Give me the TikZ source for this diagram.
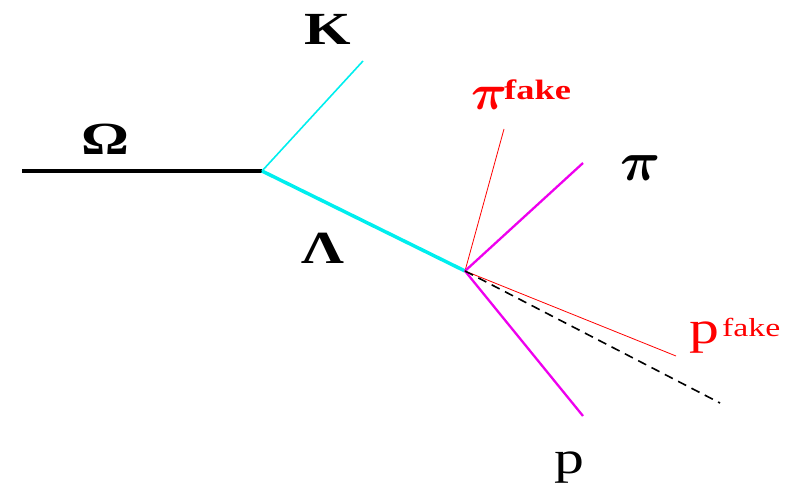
\documentclass[tikz,border=0pt]{standalone}
\usepackage{fix-cm}
\usepackage{bm}
\usepackage{fontspec}
\setmainfont{Liberation Serif}
\newcommand{\wide}[1]{\scalebox{1.3}[1]{#1}}
\begin{document}
\begin{tikzpicture}[x=1pt,y=-1pt,
  lbl/.style={font=\fontsize{46}{46}\selectfont\bfseries, inner sep=0pt, anchor=base},
  red lbl/.style={lbl, text=red, anchor=base west},
  trk/.style={line cap=butt}]
\useasboundingbox (0,0) rectangle (802,489);
\definecolor{mycyan}{RGB}{0,238,238}
\definecolor{mymag}{RGB}{238,0,238}
\coordinate (o) at (22,171);
\coordinate (v1) at (262,171);
\coordinate (k) at (363,61);
\coordinate (v2) at (465,271);
\coordinate (pif) at (504,129);
\coordinate (pi) at (583,163);
\coordinate (p) at (583,416);
\coordinate (pf) at (676,356);
\coordinate (d) at (720,403);
\draw[trk, line width=3.5pt] (o) -- (v1);
\draw[trk, mycyan, line width=1.6pt] (v1) -- (k);
\draw[trk, mycyan, line width=3.5pt] (v1) -- (v2);
\draw[trk, red, line width=0.8pt] (v2) -- (pif);
\draw[trk, mymag, line width=2.3pt] (v2) -- (pi);
\draw[trk, mymag, line width=2.3pt] (v2) -- (p);
\draw[trk, red, line width=0.8pt] (v2) -- (pf);
\draw[trk, dashed, dash pattern=on 9pt off 6pt, line width=1.6pt] (v2) -- (d);
\node[lbl] (lK) at (327.5,45) {\wide{K}};
\node[lbl] (lO) at (105,155) {\wide{Ω}};
\node[lbl] (lL) at (323,263) {\wide{Λ}};
\node[lbl, font=\fontsize{56}{56}\selectfont] (lpi) at (641,180) {$\bm{\pi}$};
\node[lbl, font=\fontsize{46}{46}\selectfont] (lp) at (569,473) {\wide{p}};
\node[red lbl, font=\fontsize{50}{50}\selectfont] (lpif) at (471,110) {$\bm{\pi}$};
\node[red lbl, font=\fontsize{28}{28}\selectfont\bfseries] (lpifs) at (504,100) {\wide{fake}};
\node[red lbl, font=\fontsize{46}{46}\selectfont] (lpf) at (689,343) {\wide{p}};
\node[red lbl, font=\fontsize{26}{26}\selectfont] (lpfs) at (722,336) {\wide{fake}};
\end{tikzpicture}
\end{document}
